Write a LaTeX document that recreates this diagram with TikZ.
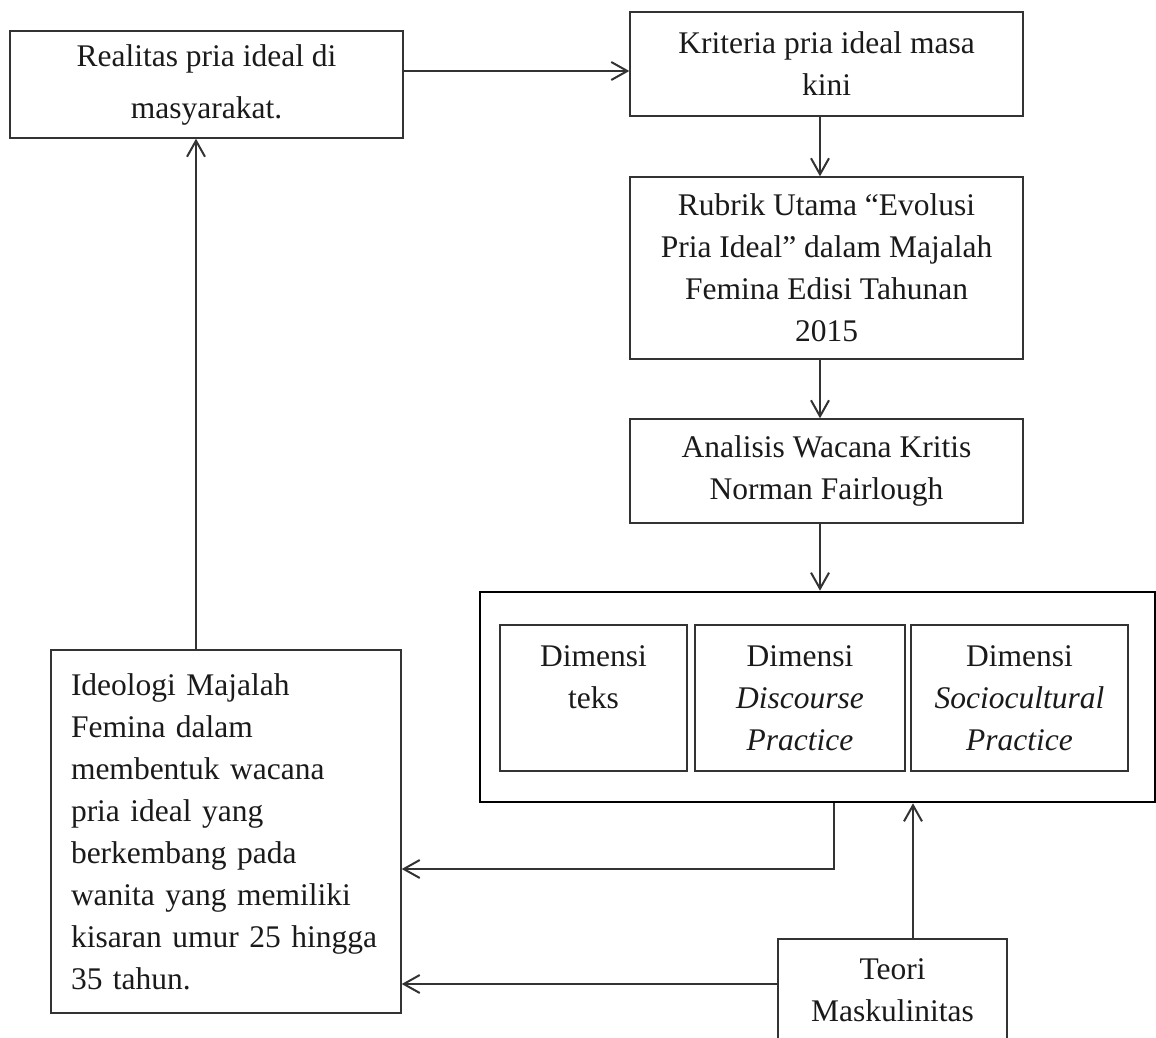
\documentclass[tikz,border=0pt]{standalone}
\usepackage{fontspec}
\setmainfont{Liberation Serif}
\usepackage{tikz}
\usetikzlibrary{positioning,calc,arrows.meta}
\definecolor{lineGray}{RGB}{51, 51, 51}
\definecolor{textBlack}{RGB}{26, 26, 26}

\begin{document}
\begin{tikzpicture}[x=0.5pt,y=-0.5pt,
    box/.style={draw=lineGray,line width=0.7pt,inner sep=0pt,align=center,
                text=textBlack,font=\fontsize{15.75}{21}\selectfont},
    arr/.style={draw=lineGray,line width=1pt,-{Straight Barb[length=8pt,width=9pt]}},
    link/.style={draw=lineGray,line width=1pt}
  ]
  \useasboundingbox (0,0) rectangle (1156,1038);
  \clip (0,0) rectangle (1156,1038);

  \node[box,minimum width=196.5pt,minimum height=53.5pt,font=\fontsize{15.75}{26}\selectfont]
    (real) at (206.5,84.5) {Realitas pria ideal di\\masyarakat.};
  \node[box,minimum width=196.5pt,minimum height=52pt] (krit) at (826.5,64)
    {Kriteria pria ideal masa\\kini};
  \node[box,minimum width=196.5pt,minimum height=91pt] (rubrik) at (826.5,268)
    {Rubrik Utama ``Evolusi\\Pria Ideal'' dalam Majalah\\Femina Edisi Tahunan\\2015};
  \node[box,minimum width=196.5pt,minimum height=52pt] (analisis) at (826.5,471)
    {Analisis Wacana Kritis\\Norman Fairlough};

  % dimensi Fairclough
  \node[box,line width=1.3pt,draw=black,minimum width=337.5pt,minimum height=105pt] (dimensi) at (817.5,697) {};
  \node[box,minimum width=93.5pt,minimum height=73pt] (teks) at (593.5,698) {Dimensi\\teks\\~};
  \node[box,minimum width=105pt,minimum height=73pt] (discourse) at (800,698)
    {Dimensi\\\textit{Discourse}\\\textit{Practice}};
  \node[box,minimum width=108.5pt,minimum height=73pt] (socio) at (1019.5,698)
    {Dimensi\\\textit{Sociocultural}\\\textit{Practice}};

  \node[box,align=left,text width=155pt,inner xsep=10pt,minimum height=181.5pt] (ideologi) at (226,831.5)
    {Ideologi Majalah\\Femina dalam\\membentuk wacana\\pria ideal yang\\berkembang pada\\wanita yang memiliki\\kisaran umur 25 hingga\\35 tahun.};
  \node[box,minimum width=114.5pt,minimum height=51pt] (teori) at (892.5,990)
    {Teori\\Maskulinitas};

  \draw[arr] ([yshift=6.75pt]real.east) -- ([yshift=6.75pt]real.east -| krit.west);
  \draw[arr] ([xshift=-3.25pt]krit.south) -- ([xshift=-3.25pt]rubrik.north);
  \draw[arr] ([xshift=-3.25pt]rubrik.south) -- ([xshift=-3.25pt]analisis.north);
  \draw[arr] ([xshift=-3.25pt]analisis.south) -- ([xshift=-3.25pt]analisis.south |- dimensi.north);
  \draw[arr] ([xshift=8.25pt]dimensi.south) |- ([yshift=-18.75pt]ideologi.east);
  \draw[arr] ([yshift=3pt]teori.west) -- ([yshift=3pt]teori.west -| ideologi.east);
  \draw[arr] ([xshift=10.25pt]teori.north) -- ([xshift=10.25pt]teori.north |- dimensi.south);
  \draw[arr] ([xshift=-15pt]ideologi.north) -- ([xshift=-15pt]ideologi.north |- real.south);
\end{tikzpicture}
\end{document}
